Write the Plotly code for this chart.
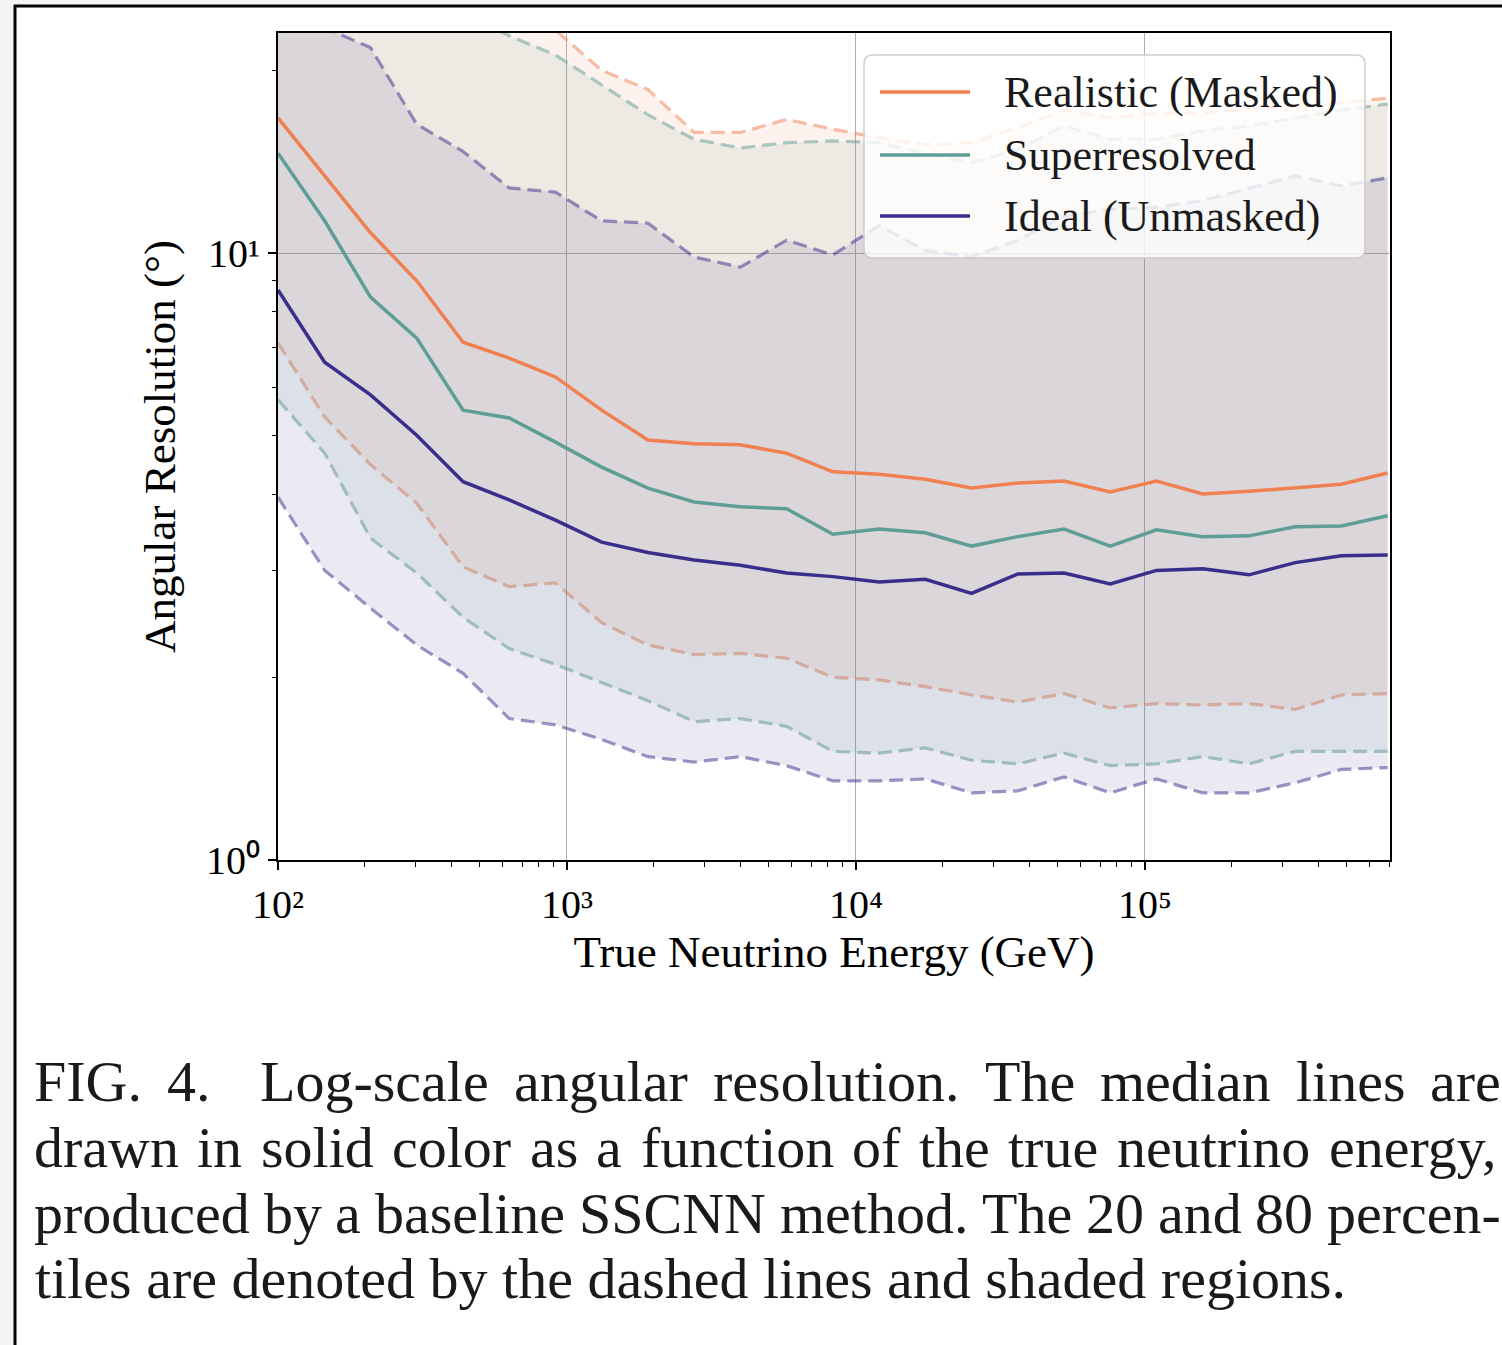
import plotly.graph_objects as go

# ---------------- data ----------------
energy = [100, 145, 209, 302, 437, 631, 912, 1318, 1905, 2754, 3981, 5754, 8318,
          12023, 17378, 25119, 36308, 52481, 75858, 109648, 158489, 229087,
          331131, 478630, 691831]

realistic_median = [16.7, 13.4, 10.8, 9.0, 7.13, 6.71, 6.25, 5.51, 4.92, 4.85, 4.83, 4.68, 4.36,
                    4.32, 4.24, 4.10, 4.18, 4.21, 4.04, 4.21, 4.01, 4.05, 4.10, 4.16, 4.34]
super_median = [14.6, 11.3, 8.46, 7.24, 5.51, 5.35, 4.88, 4.44, 4.10, 3.89, 3.82, 3.79, 3.44,
                3.51, 3.46, 3.29, 3.41, 3.51, 3.29, 3.50, 3.41, 3.42, 3.54, 3.55, 3.69]
ideal_median = [8.69, 6.61, 5.84, 5.01, 4.20, 3.92, 3.63, 3.34, 3.21, 3.12, 3.06, 2.97, 2.93,
                2.87, 2.90, 2.75, 2.96, 2.97, 2.85, 3.00, 3.02, 2.95, 3.09, 3.17, 3.18]

realistic_p20 = [7.11, 5.37, 4.48, 3.87, 3.04, 2.82, 2.86, 2.46, 2.26, 2.18, 2.19, 2.15, 2.00,
                 1.98, 1.93, 1.87, 1.82, 1.88, 1.78, 1.81, 1.80, 1.81, 1.77, 1.87, 1.88]
super_p20 = [5.73, 4.68, 3.39, 2.97, 2.51, 2.23, 2.10, 1.96, 1.83, 1.69, 1.71, 1.66, 1.51,
             1.50, 1.53, 1.46, 1.44, 1.50, 1.43, 1.44, 1.48, 1.44, 1.51, 1.51, 1.51]
ideal_p20 = [3.96, 3.00, 2.60, 2.26, 2.03, 1.71, 1.67, 1.58, 1.48, 1.45, 1.48, 1.43, 1.35,
             1.35, 1.36, 1.29, 1.30, 1.37, 1.29, 1.36, 1.29, 1.29, 1.34, 1.41, 1.42]

realistic_p80 = [40, 36, 32, 29, 27, 25, 23.3, 20.0, 18.6, 15.8, 15.8, 16.6, 16.0,
                 15.5, 15.1, 15.2, 16.1, 17.2, 16.7, 17.0, 17.0, 17.3, 17.5, 17.7, 18.0]
super_p80 = [37, 33, 30, 27, 25, 22.8, 21.2, 18.9, 16.9, 15.4, 14.9, 15.2, 15.3,
             15.2, 14.6, 14.1, 14.8, 16.2, 15.4, 15.4, 15.9, 16.2, 16.7, 17.2, 17.6]
ideal_p80 = [28, 23.5, 21.8, 16.3, 14.7, 12.8, 12.6, 11.3, 11.2, 9.85, 9.48, 10.5, 9.93,
             11.1, 10.1, 9.85, 10.5, 11.5, 11.8, 11.9, 12.2, 12.8, 13.4, 12.9, 13.3]

series_names = ["Realistic (Masked)", "Superresolved", "Ideal (Unmasked)"]
x_tick_vals = [100, 1000, 10000, 100000]
x_tick_text = ["10²", "10³", "10⁴", "10⁵"]
y_tick_vals = [1, 10]
y_tick_text = ["10⁰", "10¹"]
x_minor = [m * 10 ** e for e in range(2, 6) for m in range(2, 10)]
y_minor = [2, 3, 4, 5, 6, 7, 8, 9, 20]

caption_lines = [
    "FIG. 4.  Log-scale angular resolution. The median lines are",
    "drawn in solid color as a function of the true neutrino energy,",
    "produced by a baseline SSCNN method. The 20 and 80 percen-",
    "tiles are denoted by the dashed lines and shaded regions.",
]

# ---------------- styling ----------------
rgb = [(240, 128, 80), (95, 158, 150), (58, 46, 140)]
FONT = "Liberation Serif"
W, H = 1502, 1345
L, R, T, B = 278, 1390, 33, 860   # plot area in pixels


def px(xp):
    return (xp - L) / (R - L)


def py(yp):
    return (B - yp) / (B - T)


def c(i, a=1.0):
    r, g, b = rgb[i]
    return f"rgba({r},{g},{b},{a})"


fig = go.Figure()
bands = [(realistic_p20, realistic_p80), (super_p20, super_p80), (ideal_p20, ideal_p80)]
medians = [realistic_median, super_median, ideal_median]

for i, (lo, hi) in enumerate(bands):
    fig.add_trace(go.Scatter(x=energy, y=lo, mode="lines", showlegend=False,
                             line=dict(color=c(i, 0.5), width=3.2, dash="14px,7px"),
                             hoverinfo="skip"))
    fig.add_trace(go.Scatter(x=energy, y=hi, mode="lines", showlegend=False,
                             fill="tonexty", fillcolor=c(i, 0.1),
                             line=dict(color=c(i, 0.5), width=3.2, dash="14px,7px"),
                             hoverinfo="skip"))

for i, med in enumerate(medians):
    fig.add_trace(go.Scatter(x=energy, y=med, mode="lines", name=series_names[i],
                             showlegend=False, line=dict(color=c(i), width=3.5)))

axis_common = dict(type="log", showline=True, linecolor="black", linewidth=2, mirror=True,
                   ticks="outside", ticklen=8, tickwidth=1.5, tickcolor="black",
                   showgrid=True, gridcolor="#b0b0b0", gridwidth=1.3, zeroline=False,
                   tickfont=dict(family=FONT, size=40, color="black"),
                   tickmode="array")

fig.update_xaxes(**axis_common, range=[2, 5.848], tickvals=x_tick_vals, ticktext=x_tick_text,
                 minor=dict(tickmode="array", tickvals=x_minor, ticks="outside", ticklen=4.5,
                            tickwidth=1.2, tickcolor="black", showgrid=False),
                 title=dict(text="True Neutrino Energy (GeV)", standoff=8,
                            font=dict(family=FONT, size=45, color="black")))
fig.update_yaxes(**axis_common, range=[0, 1.3625], tickvals=y_tick_vals, ticktext=y_tick_text,
                 minor=dict(tickmode="array", tickvals=y_minor, ticks="outside", ticklen=4.5,
                            tickwidth=1.2, tickcolor="black", showgrid=False),
                 title=dict(text="Angular Resolution (°)", standoff=16,
                            font=dict(family=FONT, size=45, color="black")))

shapes = []
annotations = []

# page background: gray strips and the black frame of the figure box
shapes.append(dict(type="rect", xref="paper", yref="paper", x0=px(0), x1=px(15), y0=py(0), y1=py(H),
                   fillcolor="#f4f4f4", line=dict(width=0), layer="below"))
shapes.append(dict(type="rect", xref="paper", yref="paper", x0=px(0), x1=px(W), y0=py(0), y1=py(6),
                   fillcolor="#f4f4f4", line=dict(width=0), layer="below"))
shapes.append(dict(type="line", xref="paper", yref="paper", x0=px(15), x1=px(15), y0=py(5), y1=py(H),
                   line=dict(color="black", width=3)))
shapes.append(dict(type="line", xref="paper", yref="paper", x0=px(14), x1=px(W), y0=py(6), y1=py(6),
                   line=dict(color="black", width=3)))

# legend box (rounded)
lx0, lx1, ly0, ly1, rad = 864, 1365, 55, 258, 9


def P(a, b):
    return f"{px(a):.5f},{py(b):.5f}"


path = (f"M {P(lx0 + rad, ly0)} L {P(lx1 - rad, ly0)} Q {P(lx1, ly0)} {P(lx1, ly0 + rad)} "
        f"L {P(lx1, ly1 - rad)} Q {P(lx1, ly1)} {P(lx1 - rad, ly1)} "
        f"L {P(lx0 + rad, ly1)} Q {P(lx0, ly1)} {P(lx0, ly1 - rad)} "
        f"L {P(lx0, ly0 + rad)} Q {P(lx0, ly0)} {P(lx0 + rad, ly0)} Z")
shapes.append(dict(type="path", xref="paper", yref="paper", path=path, layer="above",
                   fillcolor="rgba(255,255,255,0.8)", line=dict(color="rgba(200,200,200,0.9)", width=1.5)))
for i, yy in enumerate([92, 155, 216]):
    shapes.append(dict(type="line", xref="paper", yref="paper", x0=px(880), x1=px(970),
                       y0=py(yy), y1=py(yy), line=dict(color=c(i), width=3.5), layer="above"))
    annotations.append(dict(xref="paper", yref="paper", x=px(1002), y=py(yy), xanchor="left",
                            yanchor="middle", showarrow=False, text=series_names[i],
                            font=dict(family=FONT, size=44, color="#1a1a1a")))

# caption with justified lines (Times metrics)
TW = {' ': 250, '.': 250, ',': 250, '-': 333}
for ch in "0123456789":
    TW[ch] = 500
TW.update(dict(A=722, B=667, C=667, D=722, E=611, F=556, G=722, H=722, I=333, J=389, K=722, L=611,
               M=889, N=722, O=722, P=556, Q=722, R=667, S=556, T=611, U=722, V=722, W=944, X=722,
               Y=722, Z=611, a=444, b=500, c=444, d=500, e=444, f=333, g=500, h=500, i=278, j=278,
               k=500, l=278, m=778, n=500, o=500, p=500, q=500, r=333, s=389, t=278, u=500, v=500,
               w=722, x=500, y=500, z=444))
CS = 58
cap_left, cap_right = 33, 1500
cap_y = [1081, 1147, 1213, 1278]


def wwidth(w):
    return sum(TW.get(ch, 500) for ch in w) * CS / 1000.0


for li, line in enumerate(caption_lines):
    if li == len(caption_lines) - 1:
        annotations.append(dict(xref="paper", yref="paper", x=px(cap_left), y=py(cap_y[li]),
                                xanchor="left", yanchor="middle", showarrow=False, text=line,
                                font=dict(family=FONT, size=CS, color="#1a1a1a")))
        continue
    words = line.split()
    weights = []
    for k in range(len(words) - 1):
        weights.append(2.0 if words[k] == "4." else 1.0)
    natural = sum(wwidth(w) for w in words)
    unit = (cap_right - cap_left - natural) / sum(weights)
    xcur = cap_left
    for k, w in enumerate(words):
        annotations.append(dict(xref="paper", yref="paper", x=px(xcur), y=py(cap_y[li]),
                                xanchor="left", yanchor="middle", showarrow=False, text=w,
                                borderpad=0,
                                font=dict(family=FONT, size=CS, color="#1a1a1a")))
        if k < len(weights):
            xcur += wwidth(w) + unit * weights[k]

fig.update_layout(width=W, height=H, margin=dict(l=L, r=W - R, t=T, b=H - B, autoexpand=False),
                  paper_bgcolor="white", plot_bgcolor="rgba(0,0,0,0)",
                  font=dict(family=FONT, color="black"),
                  shapes=shapes, annotations=annotations, showlegend=False)

fig.write_html("out.html")
